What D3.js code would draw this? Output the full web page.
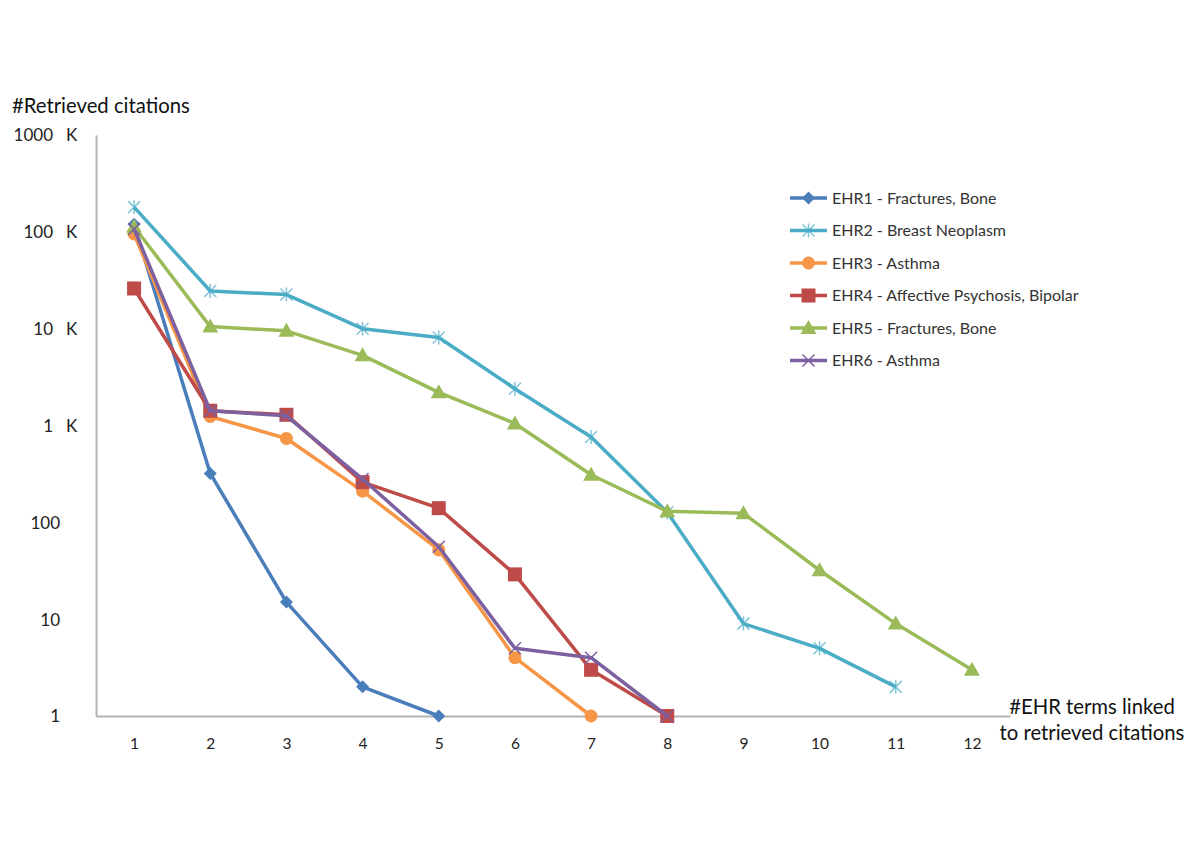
<!DOCTYPE html>
<html><head><meta charset="utf-8">
<script src="https://cdn.jsdelivr.net/npm/d3@7"></script>
<style>body{margin:0;background:#fff;}svg text{font-family:Lato,"Liberation Sans",Arial,sans-serif;}</style>
</head><body>
<svg id="c" width="1200" height="849"></svg>
<script>
const xCategories = [1,2,3,4,5,6,7,8,9,10,11,12];
const yTickValues = [1,10,100,1000,10000,100000,1000000];
const yTickNumbers = ["1","10","100","1","10","100","1000"];
const yTickSuffix = ["","","","K","K","K","K"];
const seriesNames = ["EHR1 - Fractures, Bone","EHR2 - Breast Neoplasm","EHR3 - Asthma","EHR4 - Affective Psychosis, Bipolar","EHR5 - Fractures, Bone","EHR6 - Asthma"];
const ehr1 = [120000, 320, 15, 2, 1];
const ehr2 = [180000, 24500, 22500, 10000, 8100, 2400, 760, 127, 9, 5, 2];
const ehr3 = [95000, 1240, 735, 210, 52, 4, 1];
const ehr4 = [26000, 1420, 1290, 260, 140, 29, 3, 1];
const ehr5 = [113000, 10500, 9500, 5300, 2200, 1050, 310, 130, 124, 32, 9, 3];
const ehr6 = [107000, 1420, 1260, 280, 56, 5, 4, 1];
const seriesValues = [ehr1, ehr2, ehr3, ehr4, ehr5, ehr6];
const colors = ["#4a7ebb","#4bacc6","#f79646","#be4b48","#9bbb59","#7d60a0"];
const markers = ["diamond","star","circle","square","triangle","cross"];

const svg = d3.select("#c");
const L = 96, R = 1010, T = 135, B = 716;
const x = d3.scalePoint().domain(xCategories).range([L, R]).padding(0.5);
const y = d3.scaleLog().domain([1, 1000000]).range([B, T]);

// axes
const yAx = svg.append("g").attr("transform", `translate(${L},0)`)
  .call(d3.axisLeft(y).tickValues(yTickValues).tickSize(0).tickFormat(""));
yAx.select(".domain").attr("stroke", "#b3b3b3").attr("stroke-width", 2);
yAx.selectAll(".tick").each(function(d, i) {
  const g = d3.select(this);
  const k = yTickSuffix[i] !== "";
  g.append("text").attr("x", k ? -43 : -36).attr("dy", "0.35em").attr("text-anchor", "end")
    .attr("fill", "#222").attr("font-size", 17).text(yTickNumbers[i]);
  if (k) g.append("text").attr("x", -30).attr("dy", "0.35em").attr("text-anchor", "start")
    .attr("fill", "#222").attr("font-size", 17).text(yTickSuffix[i]);
});

const xAx = svg.append("g").attr("transform", `translate(0,${B})`)
  .call(d3.axisBottom(x).tickSize(0).tickPadding(22));
xAx.select(".domain").attr("stroke", "#b3b3b3").attr("stroke-width", 2);
xAx.selectAll("text").attr("fill", "#222").attr("font-size", 15.5);

// titles
svg.append("text").attr("x", 12).attr("y", 113).attr("font-size", 20.3).attr("fill", "#111").text("#Retrieved citations");
svg.append("text").attr("x", 1092).attr("y", 714).attr("text-anchor", "middle").attr("font-size", 20.3).attr("fill", "#111").text("#EHR terms linked");
svg.append("text").attr("x", 1092).attr("y", 740).attr("text-anchor", "middle").attr("font-size", 20.3).attr("fill", "#111").text("to retrieved citations");

function drawMarker(g, type, cx, cy, color) {
  if (type === "diamond") {
    g.append("path").attr("d", `M${cx},${cy-6.5}L${cx+6.5},${cy}L${cx},${cy+6.5}L${cx-6.5},${cy}Z`).attr("fill", color);
  } else if (type === "circle") {
    g.append("circle").attr("cx", cx).attr("cy", cy).attr("r", 6.5).attr("fill", color);
  } else if (type === "square") {
    g.append("rect").attr("x", cx-7).attr("y", cy-7).attr("width", 14).attr("height", 14).attr("fill", color);
  } else if (type === "triangle") {
    g.append("path").attr("d", `M${cx},${cy-8}L${cx+8},${cy+6}L${cx-8},${cy+6}Z`).attr("fill", color);
  } else if (type === "star") {
    g.append("path").attr("d", `M${cx-6},${cy-6}L${cx+6},${cy+6}M${cx-6},${cy+6}L${cx+6},${cy-6}M${cx},${cy-7}L${cx},${cy+7}`)
      .attr("stroke", color).attr("stroke-width", 1.5).attr("fill", "none").attr("opacity", 0.7);
  } else if (type === "cross") {
    g.append("path").attr("d", `M${cx-6},${cy-6}L${cx+6},${cy+6}M${cx-6},${cy+6}L${cx+6},${cy-6}`)
      .attr("stroke", color).attr("stroke-width", 1.5).attr("fill", "none");
  }
}

const line = d3.line().x((d, i) => x(xCategories[i])).y(d => y(d));
seriesValues.forEach((vals, s) => {
  const g = svg.append("g");
  g.append("path").datum(vals).attr("d", line).attr("fill", "none")
    .attr("stroke", colors[s]).attr("stroke-width", 3.5).attr("stroke-linejoin", "round");
  vals.forEach((v, i) => drawMarker(g, markers[s], x(xCategories[i]), y(v), colors[s]));
});

// legend
const leg = svg.append("g");
seriesNames.forEach((n, i) => {
  const yy = 198 + i * 32.5;
  leg.append("line").attr("x1", 790).attr("x2", 827).attr("y1", yy).attr("y2", yy).attr("stroke", colors[i]).attr("stroke-width", 3.5);
  drawMarker(leg, markers[i], 808.5, yy, colors[i]);
  leg.append("text").attr("x", 832).attr("y", yy).attr("dy", "0.35em").attr("font-size", 16).attr("fill", "#333").text(n);
});
</script>
</body></html>
